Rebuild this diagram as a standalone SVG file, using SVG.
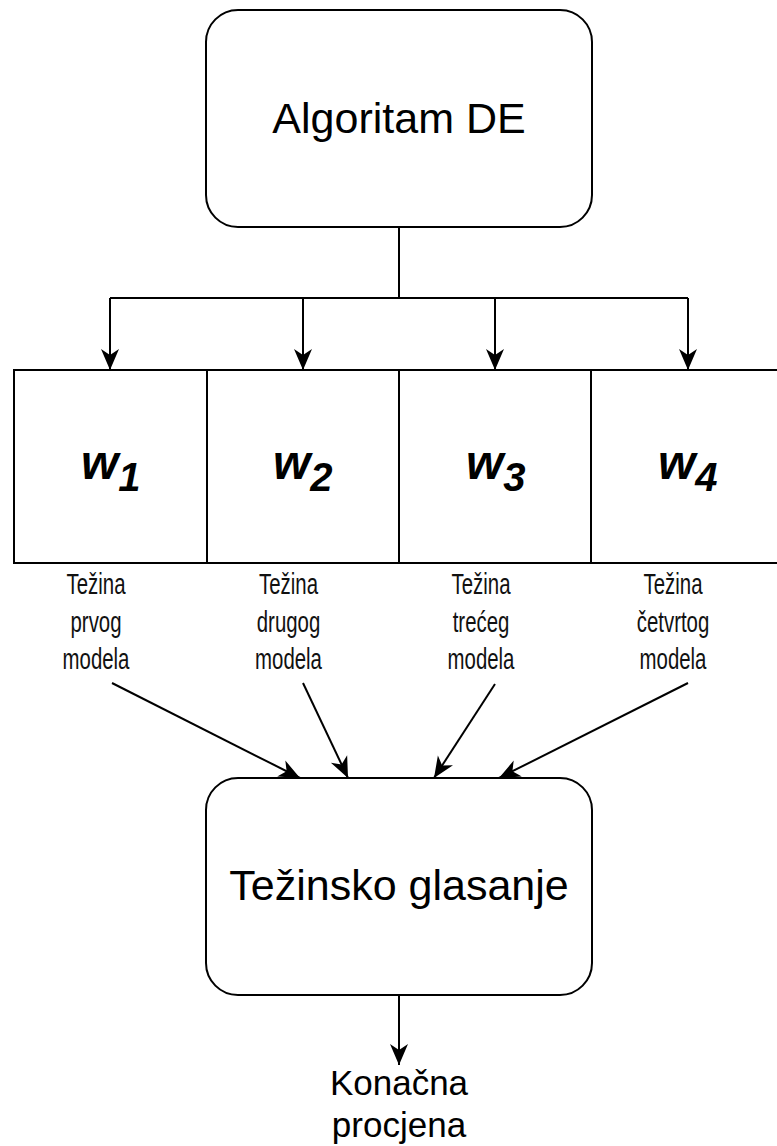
<svg xmlns="http://www.w3.org/2000/svg" width="777" height="1146" viewBox="0 0 777 1146">
<style>
.box{fill:#fff;stroke:#000;stroke-width:2}
.big{font-family:"Liberation Sans",Arial,sans-serif;font-size:43px;fill:#000;text-anchor:middle}
.lbl{font-family:"Liberation Sans",Arial,sans-serif;font-size:30px;fill:#111;text-anchor:middle}
.out{font-family:"Liberation Sans",Arial,sans-serif;font-size:35px;fill:#000;text-anchor:middle}
.w{font-family:"Liberation Sans",Arial,sans-serif;font-weight:bold;font-style:italic;fill:#000}
.edge{fill:none;stroke:#000;stroke-width:2}
</style>
<defs>
<marker id="arr" markerUnits="userSpaceOnUse" viewBox="-22 -12 24 24" markerWidth="24" markerHeight="24" refX="0" refY="0" orient="auto">
<path d="M0,0 L-21,-9 L-15,0 L-21,9 Z" fill="#000"/>
</marker>
</defs>
<rect width="777" height="1146" fill="#fff"/>
<g id="algoritam">
<rect class="box" x="206" y="10" width="386" height="217" rx="32"/>
<text class="big" x="399" y="133">Algoritam DE</text>
</g>
<g id="w1">
<rect class="box" x="14" y="370" width="193" height="193"/>
<text class="w" x="81" y="479" font-size="48">w<tspan font-size="40" dy="12">1</tspan></text>
</g>
<g id="w2">
<rect class="box" x="207" y="370" width="192" height="193"/>
<text class="w" x="273" y="479" font-size="48">w<tspan font-size="40" dy="12">2</tspan></text>
</g>
<g id="w3">
<rect class="box" x="399" y="370" width="192" height="193"/>
<text class="w" x="466" y="479" font-size="48">w<tspan font-size="40" dy="12">3</tspan></text>
</g>
<g id="w4">
<rect class="box" x="591" y="370" width="194" height="193"/>
<text class="w" x="658" y="479" font-size="48">w<tspan font-size="40" dy="12">4</tspan></text>
</g>
<g id="label1">
<text class="lbl" transform="translate(96 0) scale(0.68 1)"><tspan x="0" y="594">Težina</tspan><tspan x="0" y="632">prvog</tspan><tspan x="0" y="669">modela</tspan></text>
</g>
<g id="label2">
<text class="lbl" transform="translate(288.5 0) scale(0.68 1)"><tspan x="0" y="594">Težina</tspan><tspan x="0" y="632">drugog</tspan><tspan x="0" y="669">modela</tspan></text>
</g>
<g id="label3">
<text class="lbl" transform="translate(481 0) scale(0.68 1)"><tspan x="0" y="594">Težina</tspan><tspan x="0" y="632">trećeg</tspan><tspan x="0" y="669">modela</tspan></text>
</g>
<g id="label4">
<text class="lbl" transform="translate(673 0) scale(0.68 1)"><tspan x="0" y="594">Težina</tspan><tspan x="0" y="632">četvrtog</tspan><tspan x="0" y="669">modela</tspan></text>
</g>
<g id="glasanje">
<rect class="box" x="206" y="778" width="386" height="217" rx="32"/>
<text class="big" x="399" y="900">Težinsko glasanje</text>
</g>
<g id="procjena">
<text class="out"><tspan x="399" y="1095">Konačna</tspan><tspan x="399" y="1137">procjena</tspan></text>
</g>
<g id="connectors">
<path class="edge" d="M399,227 V298 M110,298 H688"/>
<path class="edge" d="M110,298 V370" marker-end="url(#arr)"/>
<path class="edge" d="M303,298 V370" marker-end="url(#arr)"/>
<path class="edge" d="M495,298 V370" marker-end="url(#arr)"/>
<path class="edge" d="M688,298 V370" marker-end="url(#arr)"/>
<path class="edge" d="M112,683 L300,778" marker-end="url(#arr)"/>
<path class="edge" d="M303,683 L348,778" marker-end="url(#arr)"/>
<path class="edge" d="M495,684 L434,778" marker-end="url(#arr)"/>
<path class="edge" d="M688,683 L499,778" marker-end="url(#arr)"/>
<path class="edge" d="M399,995 V1065" marker-end="url(#arr)"/>
</g>
</svg>
